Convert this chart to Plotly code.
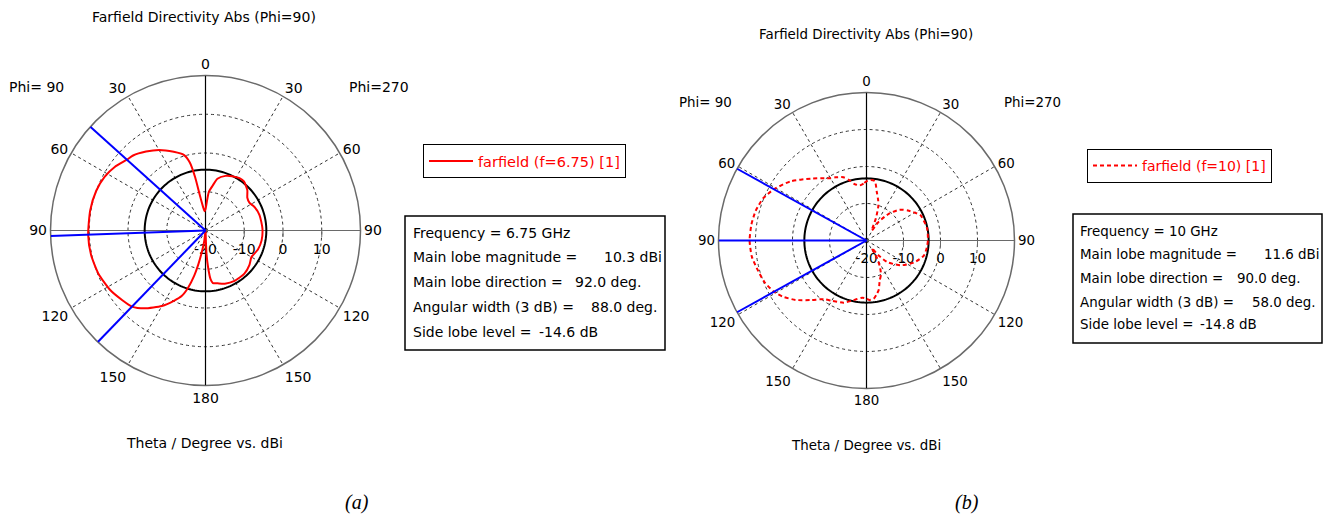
import plotly.graph_objects as go

# ---------------- data ----------------
# (a) f = 6.75 GHz, Phi = 90 cut; theta in degrees, directivity in dBi
theta_a_phi90 = [0, 3, 6, 9, 11, 13, 16, 22, 30, 37, 44, 48, 55, 62, 70, 80, 92,
                 102, 112, 122, 130, 136, 142, 150, 156, 160, 163, 166, 168, 170, 173, 180]
dir_a_phi90 = [-14.5, -15.0, -13.8, -11.0, -6.0, -2.0, 0.3, 1.9, 4.0, 5.5, 6.9, 7.3, 8.6, 9.5,
               10.0, 10.2, 10.3, 10.2, 9.8, 9.0, 8.0, 7.3, 5.5, 2.5, -0.2, -2.0, -4.5, -8.0,
               -11.0, -14.0, -17.0, -20.0]
theta_a_phi270 = [0, 3, 5, 9, 13, 20, 26, 33, 38, 46, 52, 58, 64, 74, 88, 100, 110, 120,
                  128, 138, 150, 160, 167, 172, 174, 176, 177.5, 180]
dir_a_phi270 = [-14.5, -12.2, -10.0, -8.3, -6.3, -5.0, -4.4, -3.9, -3.9, -5.0, -6.3, -6.6,
                -6.0, -5.5, -5.3, -5.3, -5.6, -6.3, -5.6, -5.0, -5.0, -5.4, -6.0, -6.3,
                -7.3, -10.5, -14.0, -20.0]

# (b) f = 10 GHz, Phi = 90 cut
theta_b_phi90 = [0, 3, 7, 12, 16, 20, 26, 30, 34, 42, 52, 61, 68, 75, 82, 90, 98, 104,
                 112, 119, 124, 130, 137, 144, 150, 160, 166, 171, 176, 180]
dir_b_phi90 = [-4.0, -4.6, -5.0, -4.4, -3.0, -1.8, -1.0, -0.6, 0.3, 2.5, 6.0, 8.6, 10.2,
               11.0, 11.4, 11.6, 11.3, 10.6, 9.8, 8.6, 7.2, 5.0, 2.0, -0.4, -1.2, -2.1,
               -3.2, -4.0, -4.5, -4.3]
theta_b_phi270 = [0, 4, 8, 12, 16, 19, 23, 28, 33, 40, 47, 54, 65, 79, 90, 97, 105, 115,
                  126, 136, 141, 145, 149, 153, 157, 162, 166, 169, 173, 177, 180]
dir_b_phi270 = [-4.0, -3.6, -3.8, -6.6, -8.6, -10.2, -13.5, -17.0, -14.0, -10.5, -7.8,
                -6.2, -3.9, -3.3, -3.4, -3.6, -4.0, -5.9, -8.6, -11.9, -14.8, -17.5,
                -14.5, -12.0, -10.0, -8.5, -6.3, -5.3, -4.1, -3.9, -4.3]

# summary figures reported for each cut
freq_ghz = ["6.75", "10"]
main_lobe_mag = [10.3, 11.6]       # dBi
main_lobe_dir = [92.0, 90.0]       # deg
beam_width_3db = [88.0, 58.0]      # deg
side_lobe_level = [-14.6, -14.8]   # dB
legend_names = ["farfield (f=6.75) [1]", "farfield (f=10) [1]"]

angle_ticks = [0, 30, 60, 90, 120, 150, 180, 210, 240, 270, 300, 330]
angle_labels = ["0", "30", "60", "90", "120", "150", "180", "150", "120", "90", "60", "30"]
radial_ticks = [-20, -10, 0, 10]
radial_labels = ["-20", "-10", "0", "10"]
r_min, r_max = -20, 20

# ---------------- layout helpers ----------------
W, H = 1328, 515
FONT = "DejaVu Sans"


def px(x):
    return x / W


def py(y):
    return 1 - y / H


fig = go.Figure()


def segment(subplot, angle, color, width):
    fig.add_trace(go.Scatterpolar(r=[r_min, r_max], theta=[angle, angle], mode="lines",
                                  line=dict(color=color, width=width), subplot=subplot,
                                  showlegend=False, hoverinfo="skip"))


def add_cut(subplot, th90, d90, th270, d270, dash, name, legend, idx):
    # left half: Phi=90 (theta counter-clockwise from top); right half: Phi=270
    theta = list(th90) + [360 - t for t in reversed(th270)]
    r = list(d90) + list(reversed(d270))

    # solid cross through the origin
    for a in (90, 270):
        segment(subplot, a, "#6a6a6a", 1.2)
    for a in (0, 180):
        segment(subplot, a, "black", 1.2)
    # side-lobe reference circle
    sll_r = main_lobe_mag[idx] + side_lobe_level[idx]
    circ_t = list(range(0, 361, 2))
    fig.add_trace(go.Scatterpolar(r=[sll_r] * len(circ_t), theta=circ_t, mode="lines",
                                  line=dict(color="black", width=2), subplot=subplot,
                                  showlegend=False, hoverinfo="skip"))
    # directivity pattern
    fig.add_trace(go.Scatterpolar(r=r, theta=theta, mode="lines", name=name,
                                  line=dict(color="#ff0000", width=2, dash=dash,
                                            shape="spline", smoothing=0.6),
                                  subplot=subplot, legend=legend, showlegend=True))
    # main lobe direction and 3 dB beam edges
    d = main_lobe_dir[idx]
    hw = beam_width_3db[idx] / 2
    for a in (d, d - hw, d + hw):
        segment(subplot, a, "#0000ff", 2)


add_cut("polar", theta_a_phi90, dir_a_phi90, theta_a_phi270, dir_a_phi270,
        "solid", legend_names[0], "legend", 0)
add_cut("polar2", theta_b_phi90, dir_b_phi90, theta_b_phi270, dir_b_phi270,
        "4px,3px", legend_names[1], "legend2", 1)


def polar_cfg(x0, x1, ytop, ybot, fs):
    return dict(
        domain=dict(x=[px(x0), px(x1)], y=[py(ybot), py(ytop)]),
        bgcolor="white",
        angularaxis=dict(rotation=90, direction="counterclockwise",
                         tickmode="array", tickvals=angle_ticks, ticktext=angle_labels,
                         showgrid=True, gridcolor="#333333", griddash="3px,3px", gridwidth=1,
                         showline=True, linecolor="#6a6a6a", linewidth=1.5, ticks="",
                         layer="below traces",
                         tickfont=dict(family=FONT, size=fs, color="black")),
        radialaxis=dict(range=[r_min, r_max], tickmode="array", tickvals=radial_ticks,
                        ticktext=radial_labels, showgrid=True, gridcolor="#333333",
                        griddash="3px,3px", gridwidth=1, showline=False, angle=0,
                        tickangle=0, side="clockwise", ticks="outside", ticklen=6,
                        tickcolor="#6a6a6a", tickwidth=1, layer="below traces",
                        tickfont=dict(family=FONT, size=fs, color="black")),
    )


fs_a, fs_b = 14, 13.4

fig.update_layout(
    width=W, height=H,
    margin=dict(l=0, r=0, t=0, b=0),
    paper_bgcolor="white",
    # half-pixel offsets keep the centre cross on pixel centres
    polar=polar_cfg(50.5, 360.5, 75.5, 385.5, fs_a),
    polar2=polar_cfg(718.5, 1014.5, 92.5, 388.5, fs_b),
    legend=dict(x=px(423), y=py(144), xanchor="left", yanchor="top", bgcolor="white",
                bordercolor="black", borderwidth=1, itemwidth=44,
                font=dict(family=FONT, size=14.5, color="#ff0000")),
    legend2=dict(x=px(1087), y=py(149), xanchor="left", yanchor="top", bgcolor="white",
                 bordercolor="black", borderwidth=1, itemwidth=44,
                 font=dict(family=FONT, size=14, color="#ff0000")),
)


def text(x, y, s, size, xanchor="left", family=FONT, italic=False):
    fig.add_annotation(x=px(x), y=py(y), xref="paper", yref="paper", text=s,
                       showarrow=False, xanchor=xanchor, yanchor="middle",
                       font=dict(family=family, size=size, color="black",
                                 style="italic" if italic else "normal"))


# titles, phi labels, axis captions
for cx, ty, lx, rx, phy, cy, sub, subx, fs in [
        (204, 17, 7, 347, 87, 443, "(a)", 357, fs_a),
        (866, 35, 677, 1002, 103, 445, "(b)", 967, fs_b)]:
    text(cx, ty, "Farfield Directivity Abs (Phi=90)", fs, "center")
    text(lx, phy, "Phi= 90", fs)
    text(rx, phy, "Phi=270", fs)
    text(cx, cy, "Theta / Degree vs. dBi", fs, "center")
    text(subx, 502, sub, 20, "center", family="Liberation Serif", italic=True)

# result boxes
boxes = [
    dict(x0=405, y0=216, x1=665, y1=350, lx=411, rows=[233, 257, 282, 307, 332],
         vx=[602, 573, 589, 537], fs=fs_a, idx=0),
    dict(x0=1073, y0=214, x1=1322, y1=343, lx=1078, rows=[231, 254, 278, 302, 324],
         vx=[1262, 1235, 1250, 1198], fs=fs_b, idx=1),
]
for b in boxes:
    i = b["idx"]
    fig.add_shape(type="rect", xref="paper", yref="paper", x0=px(b["x0"]), x1=px(b["x1"]),
                  y0=py(b["y1"]), y1=py(b["y0"]), line=dict(color="black", width=1.5),
                  fillcolor="rgba(0,0,0,0)")
    rows = b["rows"]
    text(b["lx"], rows[0], f"Frequency = {freq_ghz[i]} GHz", b["fs"])
    labels = ["Main lobe magnitude =", "Main lobe direction =", "Angular width (3 dB) =",
              "Side lobe level ="]
    values = [f"{main_lobe_mag[i]:.1f} dBi", f"{main_lobe_dir[i]:.1f} deg.",
              f"{beam_width_3db[i]:.1f} deg.", f"{side_lobe_level[i]:.1f} dB"]
    for k in range(4):
        text(b["lx"], rows[k + 1], labels[k], b["fs"])
        text(b["vx"][k], rows[k + 1], values[k], b["fs"])

fig.write_html("out.html")
